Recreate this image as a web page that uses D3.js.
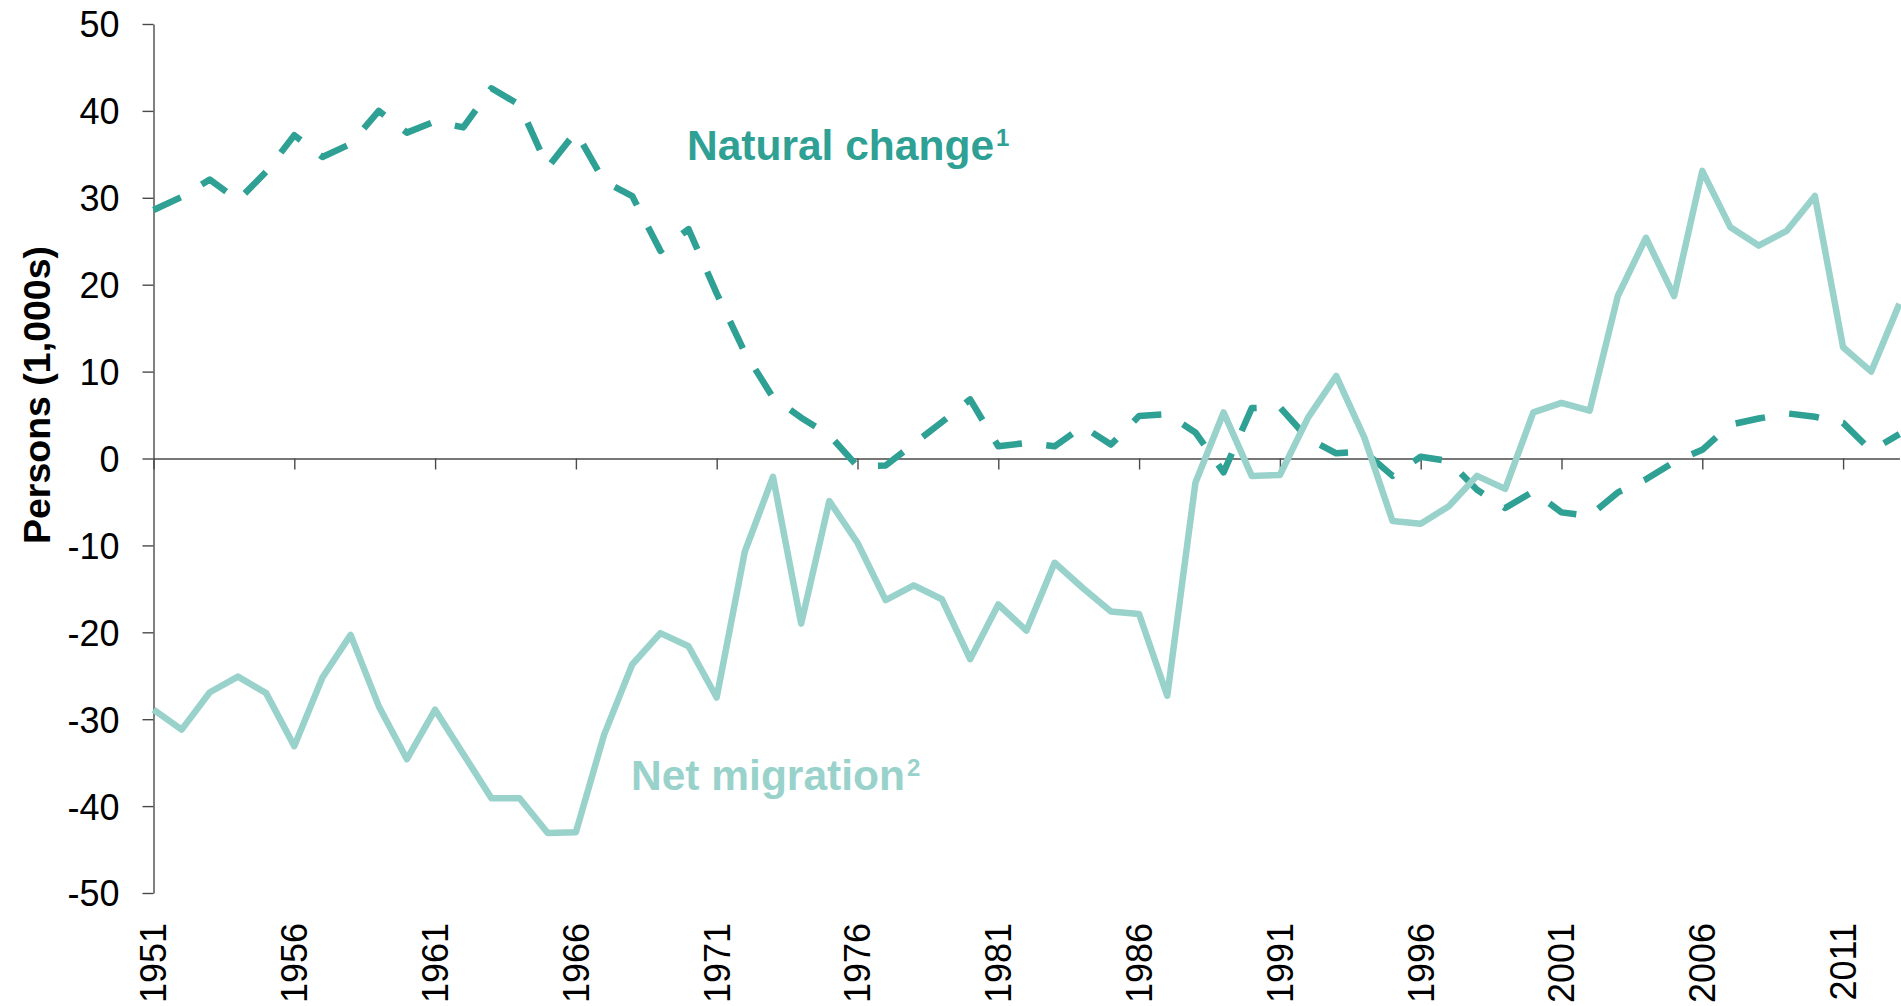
<!DOCTYPE html>
<html>
<head>
<meta charset="utf-8">
<script src="https://cdn.jsdelivr.net/npm/d3@7"></script>
<style>
    body { margin: 0; background: #ffffff; }
    #viewportContainer svg { display: block; font-family: "Liberation Sans", Arial, sans-serif; }
</style>
</head>
<body>
<div id="viewportContainer"></div>
<script>

/* --- ビューポート --- */
const viewport = {width: 1901, height: 1006};
const margin = {top: 24, right: 1.6, bottom: 113, left: 153.5};

let viewportContainer, chartContainer, axisContainer, labelContainer;



/* --- データセット --- */
const years = [
    1951, 1952, 1953, 1954, 1955, 1956, 1957, 1958, 1959, 1960,
    1961, 1962, 1963, 1964, 1965, 1966, 1967, 1968, 1969, 1970,
    1971, 1972, 1973, 1974, 1975, 1976, 1977, 1978, 1979, 1980,
    1981, 1982, 1983, 1984, 1985, 1986, 1987, 1988, 1989, 1990,
    1991, 1992, 1993, 1994, 1995, 1996, 1997, 1998, 1999, 2000,
    2001, 2002, 2003, 2004, 2005, 2006, 2007, 2008, 2009, 2010,
    2011, 2012, 2013
];

// 自然増減（千人）
const naturalChange = [
    28.6, 30.1, 32.1, 29.7, 33.0, 37.2, 34.7, 36.2, 40.0, 37.5,
    38.8, 38.1, 42.6, 40.7, 33.5, 37.6, 31.9, 30.2, 23.9, 26.4,
    19.0, 12.2, 7.0, 4.7, 2.7, -0.9, -0.8, 1.7, 4.2, 6.8,
    1.4, 1.8, 1.4, 3.7, 1.6, 4.9, 5.1, 3.0, -1.6, 5.8,
    5.9, 2.3, 0.6, 0.8, -2.0, 0.2, -0.3, -3.6, -5.7, -3.8,
    -6.2, -6.6, -3.9, -2.4, -0.4, 1.0, 3.9, 4.6, 5.2, 4.8,
    4.1, 0.9, 2.8
];

// 純移動（千人）
const netMigration = [
    -28.9, -31.2, -26.9, -25.1, -27.0, -33.1, -25.2, -20.3, -28.5, -34.6,
    -28.9, -34.0, -39.1, -39.1, -43.1, -43.0, -31.8, -23.7, -20.1, -21.6,
    -27.5, -10.7, -2.1, -19.0, -4.9, -9.7, -16.3, -14.6, -16.2, -23.1,
    -16.8, -19.8, -12.0, -14.9, -17.6, -17.9, -27.3, -2.8, 5.3, -2.0,
    -1.9, 4.7, 9.5, 2.4, -7.2, -7.5, -5.5, -2.0, -3.5, 5.3,
    6.4, 5.5, 18.7, 25.4, 18.7, 33.1, 26.6, 24.5, 26.2, 30.2,
    12.8, 10.0, 17.8
];

const yTicks = [-50, -40, -30, -20, -10, 0, 10, 20, 30, 40, 50];
const xTickYears = [1951, 1956, 1961, 1966, 1971, 1976, 1981, 1986, 1991, 1996, 2001, 2006, 2011];



/* --- スタイル --- */
const colorNatural = "#2ea094";
const colorMigration = "#98d2cb";
const axisColor = "#4a4a4a";



/*--- スケール ---*/
const xScale = d3.scaleLinear()
    .domain([years[0], years[years.length - 1]])
    .range([margin.left, viewport.width - margin.right]);

const yScale = d3.scaleLinear()
    .domain([-50, 50])
    .range([viewport.height - margin.bottom, margin.top]);



/*--- SVG作成 ---*/
viewportContainer = d3.select("#viewportContainer")
    .append("svg")
    .attr("width", viewport.width)
    .attr("height", viewport.height)
    .attr("viewBox", "0 0 " + viewport.width + " " + viewport.height);

viewportContainer.append("rect")
    .attr("width", viewport.width)
    .attr("height", viewport.height)
    .attr("fill", "#ffffff");

axisContainer = viewportContainer.append("g").attr("id", "axisContainer");
chartContainer = viewportContainer.append("g").attr("id", "chartContainer");
labelContainer = viewportContainer.append("g").attr("id", "labelContainer");



/*--- Y軸 ---*/
const yAxis = d3.axisLeft(yScale)
    .tickValues(yTicks)
    .tickSize(11)
    .tickSizeOuter(0)
    .tickPadding(23)
    .tickFormat(function(d) { return String(d); });

const yAxisG = axisContainer.append("g")
    .attr("class", "y axis")
    .attr("transform", "translate(" + margin.left + ",0)")
    .call(yAxis);

yAxisG.select(".domain").attr("stroke", axisColor).attr("stroke-width", 1.4);
yAxisG.selectAll(".tick line").attr("stroke", axisColor).attr("stroke-width", 1.4);
yAxisG.selectAll(".tick text")
    .attr("fill", "#000000")
    .style("font-size", "36px")
    .attr("dy", "0.36em");



/*--- X軸（0の位置） ---*/
const xAxis = d3.axisBottom(xScale)
    .tickValues(xTickYears)
    .tickSize(11)
    .tickSizeOuter(0)
    .tickFormat("");

const xAxisG = axisContainer.append("g")
    .attr("class", "x axis")
    .attr("transform", "translate(0," + yScale(0) + ")")
    .call(xAxis);

xAxisG.select(".domain").attr("stroke", axisColor).attr("stroke-width", 1.4);
xAxisG.selectAll(".tick line").attr("stroke", axisColor).attr("stroke-width", 1.4);



/*--- X軸ラベル（下端・縦書き） ---*/
const labelTop = viewport.height - margin.bottom + 30;

axisContainer.append("g")
    .attr("class", "x labels")
    .selectAll("text")
    .data(xTickYears)
    .enter()
    .append("text")
    .attr("transform", function(d) { return "translate(" + xScale(d) + "," + labelTop + ") rotate(-90)"; })
    .attr("text-anchor", "end")
    .attr("dy", "0.36em")
    .attr("fill", "#000000")
    .style("font-size", "36px")
    .text(function(d) { return d; });



/*--- Y軸タイトル ---*/
axisContainer.append("text")
    .attr("transform", "translate(36,395) rotate(-90)")
    .attr("text-anchor", "middle")
    .attr("dy", "0.36em")
    .attr("fill", "#000000")
    .style("font-size", "37.5px")
    .style("font-weight", "bold")
    .text("Persons (1,000s)");



/*--- 折れ線を描画 ---*/
const line = d3.line()
    .x(function(d) { return xScale(d.year); })
    .y(function(d) { return yScale(d.value); });

const naturalData = years.map(function(y, i) { return {year: y, value: naturalChange[i]}; });
const migrationData = years.map(function(y, i) { return {year: y, value: netMigration[i]}; });

chartContainer.append("path")
    .datum(naturalData)
    .attr("class", "natural")
    .attr("d", line)
    .attr("fill", "none")
    .attr("stroke", colorNatural)
    .attr("stroke-width", 6.5)
    .attr("stroke-dasharray", "30,24.5")
    .attr("stroke-linejoin", "round");

chartContainer.append("path")
    .datum(migrationData)
    .attr("class", "migration")
    .attr("d", line)
    .attr("fill", "none")
    .attr("stroke", colorMigration)
    .attr("stroke-width", 6.5)
    .attr("stroke-linejoin", "round");



/*--- 系列ラベル ---*/
const seriesLabels = [
    {text: "Natural change", sup: "1", x: 687, y: 160, color: colorNatural},
    {text: "Net migration", sup: "2", x: 631, y: 790, color: colorMigration}
];

const labelText = labelContainer.selectAll("text")
    .data(seriesLabels)
    .enter()
    .append("text")
    .attr("x", function(d) { return d.x; })
    .attr("y", function(d) { return d.y; })
    .attr("fill", function(d) { return d.color; })
    .style("font-size", "42.5px")
    .style("font-weight", "bold");

labelText.append("tspan").text(function(d) { return d.text; });

labelText.append("tspan")
    .attr("dx", 2)
    .attr("dy", -14)
    .style("font-size", "24px")
    .text(function(d) { return d.sup; });

</script>
</body>
</html>
